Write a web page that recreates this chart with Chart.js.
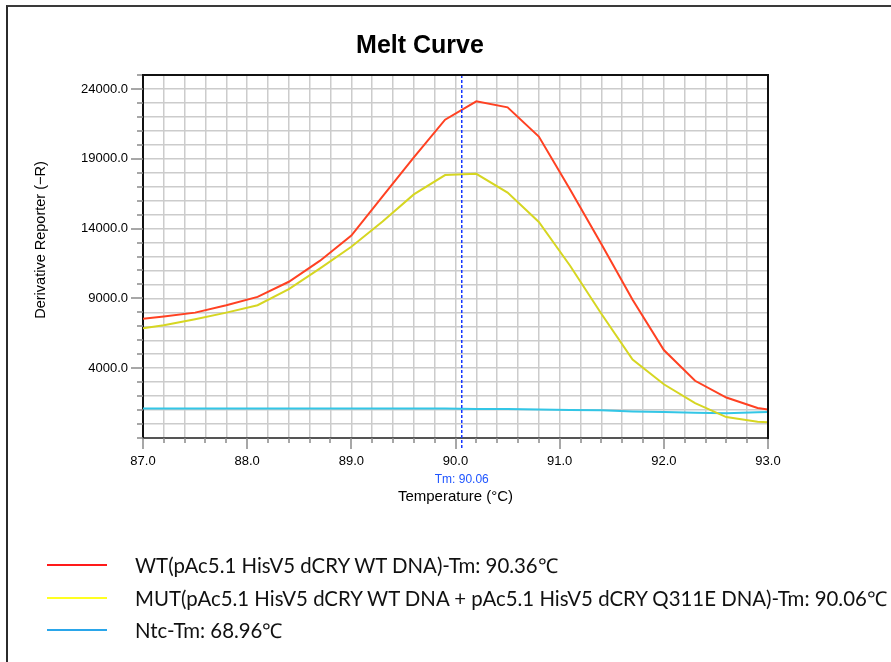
<!DOCTYPE html>
<html>
<head>
<meta charset="utf-8">
<title>Melt Curve</title>
<script src="https://cdn.jsdelivr.net/npm/chart.js@4"></script>
<style>
  html, body { margin: 0; padding: 0; background: #fff; }
  #wrap { position: relative; width: 891px; height: 662px; overflow: hidden; }
  #frame { position: absolute; left: 6px; top: 5px; width: 900px; height: 700px;
           border-left: 2px solid #2b2b2b; border-top: 2px solid #3a3a3a; }
  #melt { position: absolute; left: 0; top: 0; }
  #legend { position: absolute; left: 47px; top: 549px; font-family: Lato, "Open Sans", sans-serif;
            font-size: 20.4px; color: #111; }
  #legend .row { display: flex; align-items: center; height: 32.5px; white-space: nowrap; }
  #legend .sw { width: 60px; height: 2px; margin-right: 28px; flex: none; }
</style>
</head>
<body>
<div id="wrap">
  <div id="frame"></div>
  <canvas id="melt" width="891" height="662"></canvas>
  <div id="legend"></div>
</div>
<script>
  // ---- data: derivative reporter (-R) vs temperature ----
  const temps = [86.9, 87.2, 87.5, 87.8, 88.1, 88.4, 88.7, 89.0, 89.3, 89.6, 89.9,
                 90.2, 90.5, 90.8, 91.1, 91.4, 91.7, 92.0, 92.3, 92.6, 92.9, 93.2];
  const wtValues  = [7450, 7700, 7980, 8510, 9110, 10190, 11700, 13500, 16300, 19100, 21800,
                     23110, 22680, 20590, 16800, 12900, 8900, 5300, 3100, 1900, 1150, 800];
  const mutValues = [6750, 7070, 7500, 7980, 8510, 9660, 11150, 12700, 14500, 16450, 17830,
                     17920, 16580, 14470, 11340, 7900, 4620, 2850, 1500, 500, 170, 60];
  const ntcValues = [1120, 1120, 1120, 1120, 1120, 1120, 1120, 1120, 1120, 1120, 1120,
                     1080, 1070, 1050, 1000, 980, 900, 860, 800, 780, 840, 900];

  const seriesLabels = [
    'WT(pAc5.1 HisV5 dCRY WT DNA)-Tm: 90.36\u2103',
    'MUT(pAc5.1 HisV5 dCRY WT DNA + pAc5.1 HisV5 dCRY Q311E DNA)-Tm: 90.06\u2103',
    'Ntc-Tm: 68.96\u2103',
  ];

  const tmMarker = 90.06;
  const xRange = [87, 93];
  const yRange = [-1000, 25000];
  const yLabelStart = 4000;   // labelled every 5000 from here

  // ---- styling ----
  const lineColors   = ['#ff4122', '#d6d622', '#33c6e6'];
  const legendColors = ['#ff1a1a', '#ffff22', '#2aa6ea'];
  const AXIS_FONT = '"Liberation Sans", Arial, sans-serif';

  const isWhole = v => Math.abs(v - Math.round(v)) < 1e-6;
  const yMajor = v => v >= yLabelStart && Math.abs((v - yLabelStart) % 5000) < 1e-6;

  // frame, tick marks, Tm marker and the canvas texts
  const meltDecor = {
    id: 'meltDecor',
    beforeDatasetsDraw(chart) {
      const { ctx, scales: { x, y } } = chart;
      const a = chart.chartArea;
      ctx.save();
      ctx.strokeStyle = '#8a8a8a';
      ctx.lineWidth = 1.5;
      ctx.beginPath();
      x.ticks.forEach(t => {
        const px = Math.round(x.getPixelForValue(t.value));
        ctx.moveTo(px, a.bottom);
        ctx.lineTo(px, a.bottom + (isWhole(t.value) ? 11 : 5));
      });
      y.ticks.forEach(t => {
        const py = Math.round(y.getPixelForValue(t.value));
        ctx.moveTo(a.left, py);
        ctx.lineTo(a.left - (yMajor(t.value) ? 12 : 6), py);
      });
      ctx.stroke();
      ctx.restore();
    },
    afterDatasetsDraw(chart) {
      const { ctx, scales: { x } } = chart;
      const a = chart.chartArea;
      ctx.save();
      // Tm marker
      const tx = x.getPixelForValue(tmMarker);
      ctx.strokeStyle = '#1736ff';
      ctx.lineWidth = 1.5;
      ctx.setLineDash([3, 2]);
      ctx.beginPath();
      ctx.moveTo(tx, a.top);
      ctx.lineTo(tx, a.bottom + 11);
      ctx.stroke();
      ctx.setLineDash([]);

      // top and right edges of the plot box
      ctx.strokeStyle = '#111';
      ctx.lineWidth = 2;
      ctx.beginPath();
      ctx.moveTo(a.left - 1, a.top);
      ctx.lineTo(a.right, a.top);
      ctx.lineTo(a.right, a.bottom + 1);
      ctx.stroke();

      ctx.textAlign = 'center';
      ctx.textBaseline = 'middle';
      ctx.fillStyle = '#1f55ff';
      ctx.font = '12px ' + AXIS_FONT;
      ctx.fillText('Tm: ' + tmMarker.toFixed(2), tx, 480);

      ctx.fillStyle = '#000';
      ctx.font = '15px ' + AXIS_FONT;
      ctx.fillText('Temperature (\u00b0C)', (a.left + a.right) / 2, 497);

      ctx.save();
      ctx.translate(41, 240);
      ctx.rotate(-Math.PI / 2);
      ctx.font = '14.5px ' + AXIS_FONT;
      ctx.fillText('Derivative Reporter (\u2212R)', 0, 0);
      ctx.restore();

      ctx.textBaseline = 'alphabetic';
      ctx.font = 'bold 25px ' + AXIS_FONT;
      ctx.fillText('Melt Curve', 420, 53);
      ctx.restore();
    },
  };

  const toPoints = vals => temps.map((t, i) => ({ x: t, y: vals[i] }));

  const chart = new Chart(document.getElementById('melt'), {
    type: 'line',
    data: {
      datasets: [wtValues, mutValues, ntcValues].map((vals, i) => ({
        label: seriesLabels[i],
        data: toPoints(vals),
        borderColor: lineColors[i],
        backgroundColor: lineColors[i],
        borderWidth: 2,
        pointRadius: 0,
        tension: 0,
        fill: false,
      })),
    },
    options: {
      responsive: false,
      animation: false,
      events: [],
      layout: { padding: { left: 0, top: 75, right: 123, bottom: 194 } },
      plugins: { legend: { display: false }, title: { display: false }, tooltip: { enabled: false } },
      scales: {
        x: {
          type: 'linear', min: xRange[0], max: xRange[1],
          afterFit: s => { s.height = 30; },
          grid: { color: '#cccccc', lineWidth: 1.5, drawTicks: false },
          border: { color: '#555', width: 2 },
          ticks: {
            stepSize: 0.2, autoSkip: false, maxRotation: 0, padding: 16,
            color: '#000', font: { family: AXIS_FONT, size: 13 },
            callback: v => (isWhole(v) ? Number(v).toFixed(1) : ''),
          },
        },
        y: {
          type: 'linear', min: yRange[0], max: yRange[1],
          afterFit: s => { s.width = 143; },
          grid: { color: '#cccccc', lineWidth: 1.5, drawTicks: false },
          border: { color: '#111', width: 2 },
          ticks: {
            stepSize: 1000, autoSkip: false, padding: 15,
            color: '#000', font: { family: AXIS_FONT, size: 13 },
            callback: v => (yMajor(v) ? Number(v).toFixed(1) : ''),
          },
        },
      },
    },
    plugins: [meltDecor],
  });

  // legend rows below the plot, one per dataset
  const legend = document.getElementById('legend');
  chart.data.datasets.forEach((ds, i) => {
    const row = document.createElement('div');
    row.className = 'row';
    const sw = document.createElement('span');
    sw.className = 'sw';
    sw.style.background = legendColors[i];
    const txt = document.createElement('span');
    txt.textContent = ds.label;
    row.append(sw, txt);
    legend.append(row);
  });
</script>
</body>
</html>
